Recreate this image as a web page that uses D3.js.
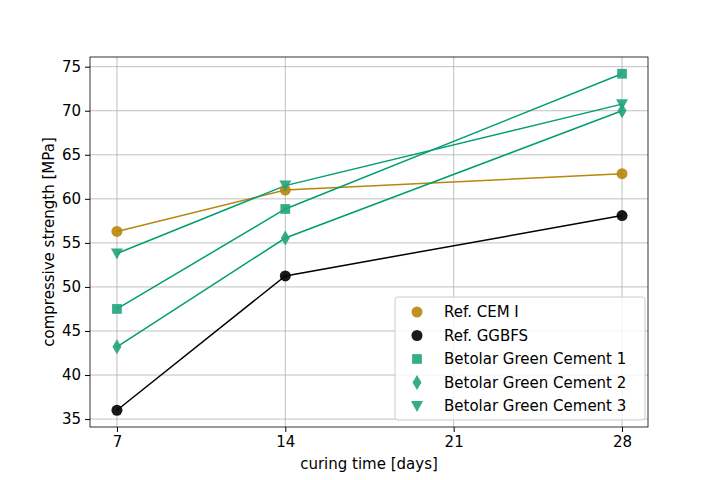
<!DOCTYPE html>
<html>
<head>
<meta charset="utf-8">
<script src="https://cdn.jsdelivr.net/npm/d3@7"></script>
<style>
  body { margin: 0; background: #fff; }
  text { font-family: "DejaVu Sans", sans-serif; }
</style>
</head>
<body>
<div class="chart"></div>
<script>
const days = [7, 14, 28];
const xTicks = [7, 14, 21, 28];
const yTicks = [35, 40, 45, 50, 55, 60, 65, 70, 75];
const refCem = [56.3, 61.0, 62.85];
const refGgbfs = [36.0, 51.25, 58.1];
const green1 = [47.5, 58.85, 74.2];
const green2 = [43.2, 55.55, 70.0];
const green3 = [53.8, 61.5, 70.75];

const series = [
  { name: 'Ref. CEM I', values: refCem, line: '#b8860b', fill: '#b8860b', shape: 'circle' },
  { name: 'Ref. GGBFS', values: refGgbfs, line: '#000', fill: '#000', shape: 'circle' },
  { name: 'Betolar Green Cement 1', values: green1, line: '#009e73', fill: '#21a37c', shape: 'square' },
  { name: 'Betolar Green Cement 2', values: green2, line: '#009e73', fill: '#21a37c', shape: 'diamond' },
  { name: 'Betolar Green Cement 3', values: green3, line: '#009e73', fill: '#21a37c', shape: 'tri' }
];

const width = 720, height = 480;
const margin = { top: 57, right: 72, bottom: 53, left: 90 };

const svg = d3.select('.chart').append('svg')
  .attr('width', width).attr('height', height);

const x = d3.scaleLinear().domain([5.88, 29.08]).range([margin.left, width - margin.right]);
const y = d3.scaleLinear().domain([34.1, 76.1]).range([height - margin.bottom, margin.top]);

// grid
svg.append('g').selectAll('line').data(xTicks).enter().append('line')
  .attr('x1', d => x(d)).attr('x2', d => x(d))
  .attr('y1', margin.top).attr('y2', height - margin.bottom)
  .attr('stroke', '#b0b0b0').attr('stroke-width', 0.8);
svg.append('g').selectAll('line').data(yTicks).enter().append('line')
  .attr('x1', margin.left).attr('x2', width - margin.right)
  .attr('y1', d => y(d)).attr('y2', d => y(d))
  .attr('stroke', '#b0b0b0').attr('stroke-width', 0.8);

const xAxis = svg.append('g')
  .attr('transform', `translate(0,${height - margin.bottom})`)
  .call(d3.axisBottom(x).tickValues(xTicks).tickSize(5).tickPadding(4));
const yAxis = svg.append('g')
  .attr('transform', `translate(${margin.left},0)`)
  .call(d3.axisLeft(y).tickValues(yTicks).tickSize(5).tickPadding(4));
[xAxis, yAxis].forEach(a => {
  a.select('.domain').remove();
  a.selectAll('text').attr('font-size', 15).attr('fill', '#000').style('font-family', '"DejaVu Sans", sans-serif');
});

svg.append('rect')
  .attr('x', margin.left).attr('y', margin.top)
  .attr('width', width - margin.left - margin.right)
  .attr('height', height - margin.top - margin.bottom)
  .attr('fill', 'none').attr('stroke', '#000').attr('stroke-width', 0.8);

svg.append('text').attr('x', (margin.left + width - margin.right) / 2).attr('y', 469)
  .attr('text-anchor', 'middle').attr('font-size', 15).text('curing time [days]');
svg.append('text').attr('transform', `translate(54,${(margin.top + height - margin.bottom) / 2}) rotate(-90)`)
  .attr('text-anchor', 'middle').attr('font-size', 15).text('compressive strength [MPa]');

function marker(g, shape, fill, cx, cy) {
  let sym;
  if (shape === 'circle') sym = d3.symbol(d3.symbolCircle, 95);
  else if (shape === 'square') sym = d3.symbol(d3.symbolSquare, 95);
  else if (shape === 'diamond') {
    g.append('path').attr('d', `M0,-7.5L4.5,0L0,7.5L-4.5,0Z`)
      .attr('transform', `translate(${cx},${cy})`).attr('fill', fill).attr('opacity', 0.9);
    return;
  } else {
    g.append('path').attr('d', `M-6,-5L6,-5L0,6Z`)
      .attr('transform', `translate(${cx},${cy})`).attr('fill', fill).attr('opacity', 0.9);
    return;
  }
  g.append('path').attr('d', sym()).attr('transform', `translate(${cx},${cy})`)
    .attr('fill', fill).attr('opacity', 0.9);
}

const line = d3.line().x((d, i) => x(days[i])).y(d => y(d));
series.forEach(s => {
  svg.append('path').datum(s.values).attr('d', line)
    .attr('fill', 'none').attr('stroke', s.line).attr('stroke-width', 1.5);
});
series.forEach(s => {
  const g = svg.append('g');
  s.values.forEach((v, i) => marker(g, s.shape, s.fill, x(days[i]), y(v)));
});

// legend
const lg = svg.append('g').attr('transform', 'translate(395,297)');
lg.append('rect').attr('width', 250).attr('height', 123).attr('rx', 3)
  .attr('fill', '#fff').attr('fill-opacity', 0.8).attr('stroke', '#ccc');
series.forEach((s, i) => {
  const cy = 15 + i * 23.5;
  marker(lg, s.shape, s.fill, 22, cy);
  lg.append('text').attr('x', 49).attr('y', cy + 5).attr('font-size', 15).text(s.name);
});
</script>
</body>
</html>
